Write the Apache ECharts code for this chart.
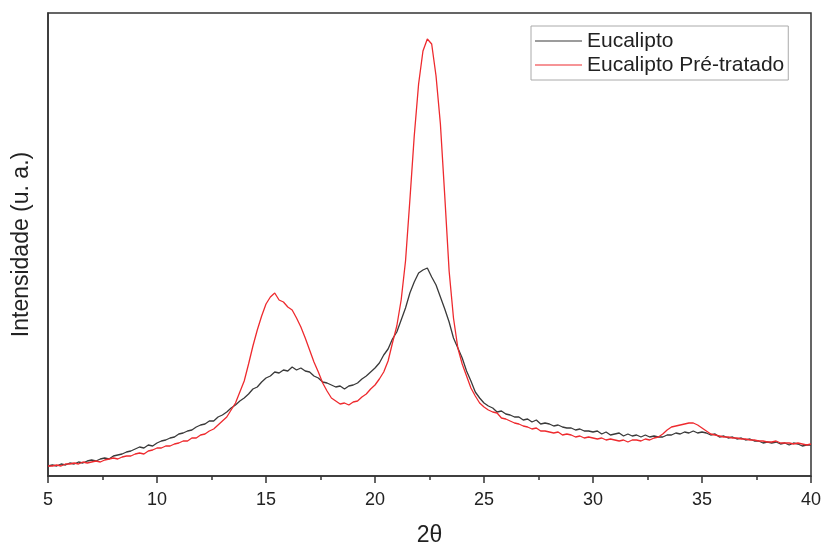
<!DOCTYPE html>
<html>
<head>
<meta charset="utf-8">
<script src="https://cdn.jsdelivr.net/npm/echarts@6/dist/echarts.min.js"></script>
<style>
html,body{margin:0;padding:0;background:#fff;}
#main{width:824px;height:547px;}
</style>
</head>
<body>
<div id="main"></div>
<script>
// 2θ (graus), passo 0.2
var twoTheta = [
 5.0,5.2,5.4,5.6,5.8,6.0,6.2,6.4,6.6,6.8,
 7.0,7.2,7.4,7.6,7.8,8.0,8.2,8.4,8.6,8.8,
 9.0,9.2,9.4,9.6,9.8,10.0,10.2,10.4,10.6,10.8,
 11.0,11.2,11.4,11.6,11.8,12.0,12.2,12.4,12.6,12.8,
 13.0,13.2,13.4,13.6,13.8,14.0,14.2,14.4,14.6,14.8,
 15.0,15.2,15.4,15.6,15.8,16.0,16.2,16.4,16.6,16.8,
 17.0,17.2,17.4,17.6,17.8,18.0,18.2,18.4,18.6,18.8,
 19.0,19.2,19.4,19.6,19.8,20.0,20.2,20.4,20.6,20.8,
 21.0,21.2,21.4,21.6,21.8,22.0,22.2,22.4,22.6,22.8,
 23.0,23.2,23.4,23.6,23.8,24.0,24.2,24.4,24.6,24.8,
 25.0,25.2,25.4,25.6,25.8,26.0,26.2,26.4,26.6,26.8,
 27.0,27.2,27.4,27.6,27.8,28.0,28.2,28.4,28.6,28.8,
 29.0,29.2,29.4,29.6,29.8,30.0,30.2,30.4,30.6,30.8,
 31.0,31.2,31.4,31.6,31.8,32.0,32.2,32.4,32.6,32.8,
 33.0,33.2,33.4,33.6,33.8,34.0,34.2,34.4,34.6,34.8,
 35.0,35.2,35.4,35.6,35.8,36.0,36.2,36.4,36.6,36.8,
 37.0,37.2,37.4,37.6,37.8,38.0,38.2,38.4,38.6,38.8,
 39.0,39.2,39.4,39.6,39.8,40.0
];
// Eucalipto (u. a.)
var eucalipto = [
 10,11,10,12,11,13,12,14,13,15,
 16,15,17,18,17,20,21,22,24,25,
 27,29,28,31,30,33,35,36,38,39,
 42,43,45,46,49,51,52,55,55,59,
 61,64,68,71,75,78,82,87,89,94,
 98,100,104,103,106,105,109,106,108,105,
 104,100,98,94,93,91,89,90,87,90,
 91,93,97,100,104,108,113,121,127,137,
 144,156,168,183,194,203,206,208,199,191,
 179,167,154,138,128,118,105,95,84,78,
 73,70,68,64,65,62,61,59,59,56,
 57,54,56,52,53,52,50,51,49,48,
 48,46,47,45,45,44,45,42,44,41,
 42,43,40,42,40,41,39,41,39,40,
 39,39,41,41,43,42,44,43,45,43,
 44,43,41,42,39,40,38,39,37,38,
 36,37,35,35,33,34,33,34,32,33,
 31,33,32,30,31,31
];
// Eucalipto Pré-tratado (u. a.)
var eucaliptoPre = [
 10,10,11,10,12,12,13,12,14,13,
 14,15,14,16,17,18,17,19,20,20,
 22,23,22,25,26,28,28,30,30,32,
 33,35,35,38,38,41,42,45,47,51,
 55,59,66,73,84,95,112,130,146,160,
 172,179,183,176,174,169,166,158,149,138,
 126,114,104,93,85,78,75,72,73,71,
 74,75,79,82,87,91,97,104,115,133,
 150,176,215,276,340,392,425,437,432,400,
 352,280,205,158,128,112,100,88,80,73,
 69,66,64,63,58,57,55,53,52,50,
 49,47,48,45,45,44,43,44,41,42,
 41,39,40,38,39,38,37,38,36,37,
 36,35,36,34,36,36,35,37,36,38,
 39,42,46,49,50,51,52,53,53,51,
 48,45,42,41,40,39,39,38,38,37,
 37,36,36,35,35,34,34,35,33,33,
 33,32,33,32,31,32
];
var xTicks = [5, 10, 15, 20, 25, 30, 35, 40];

function pares(ys){
    var out = [];
    for(var i=0;i<twoTheta.length;i++){
        out.push([twoTheta[i], ys[i]]);
    }
    return out;
}

var chart = echarts.init(document.getElementById('main'));
var fonte = 'Liberation Sans, Arial, sans-serif';
chart.setOption({
    animation:false,
    backgroundColor:'#fff',
    grid:{
        left:48, right:13, top:13, bottom:71,
        outerBoundsMode:'none',
        show:true, borderColor:'#333', borderWidth:1.5, backgroundColor:'transparent'
    },
    legend:{
        orient:'vertical',
        left:531, top:26,
        padding:[4,4,4,4],
        itemGap:2,
        icon:'rect',
        itemWidth:47, itemHeight:1.2,
        borderColor:'#aaa', borderWidth:1,
        textStyle:{fontFamily:fonte, fontSize:21, color:'#222', lineHeight:22},
        data:['Eucalipto','Eucalipto Pré-tratado']
    },
    xAxis:{
        type:'value',
        min:xTicks[0], max:xTicks[xTicks.length-1], interval:5,
        name:'2θ', nameLocation:'middle', nameGap:48,
        nameTextStyle:{fontFamily:fonte, fontSize:23, color:'#222'},
        axisLine:{show:true, lineStyle:{color:'#333', width:1.5}},
        axisTick:{show:true, inside:false, length:7, lineStyle:{color:'#333', width:1.5}},
        minorTick:{show:true, splitNumber:2, length:4, lineStyle:{color:'#333', width:1.5}},
        axisLabel:{fontFamily:fonte, fontSize:18, color:'#222', margin:15},
        splitLine:{show:false}
    },
    yAxis:{
        type:'value', min:0, max:463,
        name:'Intensidade (u. a.)', nameLocation:'middle', nameGap:15, nameRotate:90,
        nameTextStyle:{fontFamily:fonte, fontSize:23, color:'#222'},
        axisLine:{show:true, lineStyle:{color:'#333', width:1.5}},
        axisTick:{show:false},
        axisLabel:{show:false},
        splitLine:{show:false}
    },
    series:[
        {
            name:'Eucalipto', type:'line', symbol:'none', showSymbol:false,
            data:pares(eucalipto),
            itemStyle:{color:'#3a3a3a'},
            lineStyle:{color:'#3a3a3a', width:1.3}
        },
        {
            name:'Eucalipto Pré-tratado', type:'line', symbol:'none', showSymbol:false,
            data:pares(eucaliptoPre),
            itemStyle:{color:'#ee2a2e'},
            lineStyle:{color:'#ee2a2e', width:1.3}
        }
    ]
});
</script>
</body>
</html>
